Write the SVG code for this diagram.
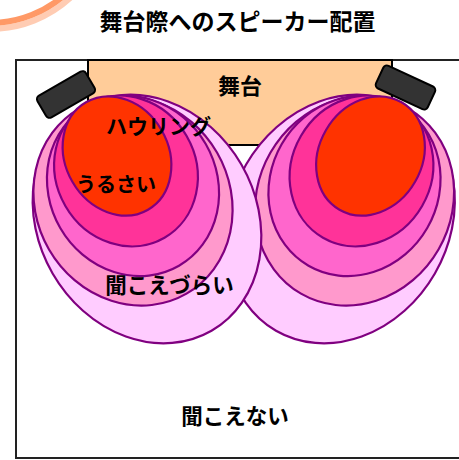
<svg xmlns="http://www.w3.org/2000/svg" width="459" height="460" viewBox="0 0 459 460">
<style>
text{font-family:"Noto Sans CJK JP","Noto Sans CJK SC",sans-serif;font-weight:bold;fill:#000;text-anchor:middle}
.z{stroke:#800080;stroke-width:2.2}
.z1{fill:#FFCCFF}.z2{fill:#FF99CC}.z3{fill:#FF66CC}.z4{fill:#FF3399}.z5{fill:#FF3300}
.spk{fill:#333;stroke:#000;stroke-width:2}
</style>
<defs>
<g id="zones">
<ellipse class="z z1" cx="147" cy="219" rx="109" ry="129" transform="rotate(-30 147 219)"/>
<ellipse class="z z2" cx="133" cy="201" rx="97" ry="107" transform="rotate(-30 133 201)"/>
<ellipse class="z z3" cx="133" cy="186" rx="84" ry="92" transform="rotate(-30 133 186)"/>
<ellipse class="z z4" cx="126" cy="171" rx="70" ry="77" transform="rotate(-30 126 171)"/>
<ellipse class="z z5" cx="117" cy="156" rx="51.5" ry="62" transform="rotate(-30 117 156)"/>
</g>
</defs>
<rect width="459" height="460" fill="#fff"/>
<g id="deco">
<circle cx="-10" cy="-90" r="119" fill="none" stroke="#FFCCB3" stroke-width="6"/>
<circle cx="-10" cy="-90" r="113" fill="none" stroke="#FF9966" stroke-width="6"/>
</g>
<text id="title" x="237.5" y="30" font-size="23">舞台際へのスピーカー配置</text>
<g id="room"><rect x="16" y="60" width="460" height="398" fill="#fff" stroke="#222" stroke-width="2"/></g>
<g id="stage">
<rect x="88" y="60" width="304" height="85" fill="#FFCC99" stroke="#000" stroke-width="2"/>
<text x="240" y="93.5" font-size="22">舞台</text>
</g>
<g id="zones-right"><use href="#zones" transform="matrix(-1 0 0 1 487.5 0)"/></g>
<g id="zones-left"><use href="#zones"/></g>
<g id="speaker-left"><rect class="spk" x="38" y="82" width="56" height="25" rx="4" transform="rotate(-30 66 94.5)"/></g>
<g id="speaker-right"><rect class="spk" x="377" y="75" width="57" height="25" rx="4" transform="rotate(25 405.5 87.5)"/></g>
<g id="labels">
<text x="158.5" y="133.5" font-size="21">ハウリング</text>
<text x="116" y="191.5" font-size="20">うるさい</text>
<text x="169.5" y="293" font-size="21.5">聞こえづらい</text>
<text x="235" y="424" font-size="21.5">聞こえない</text>
</g>
<g id="connectors"/>
</svg>
